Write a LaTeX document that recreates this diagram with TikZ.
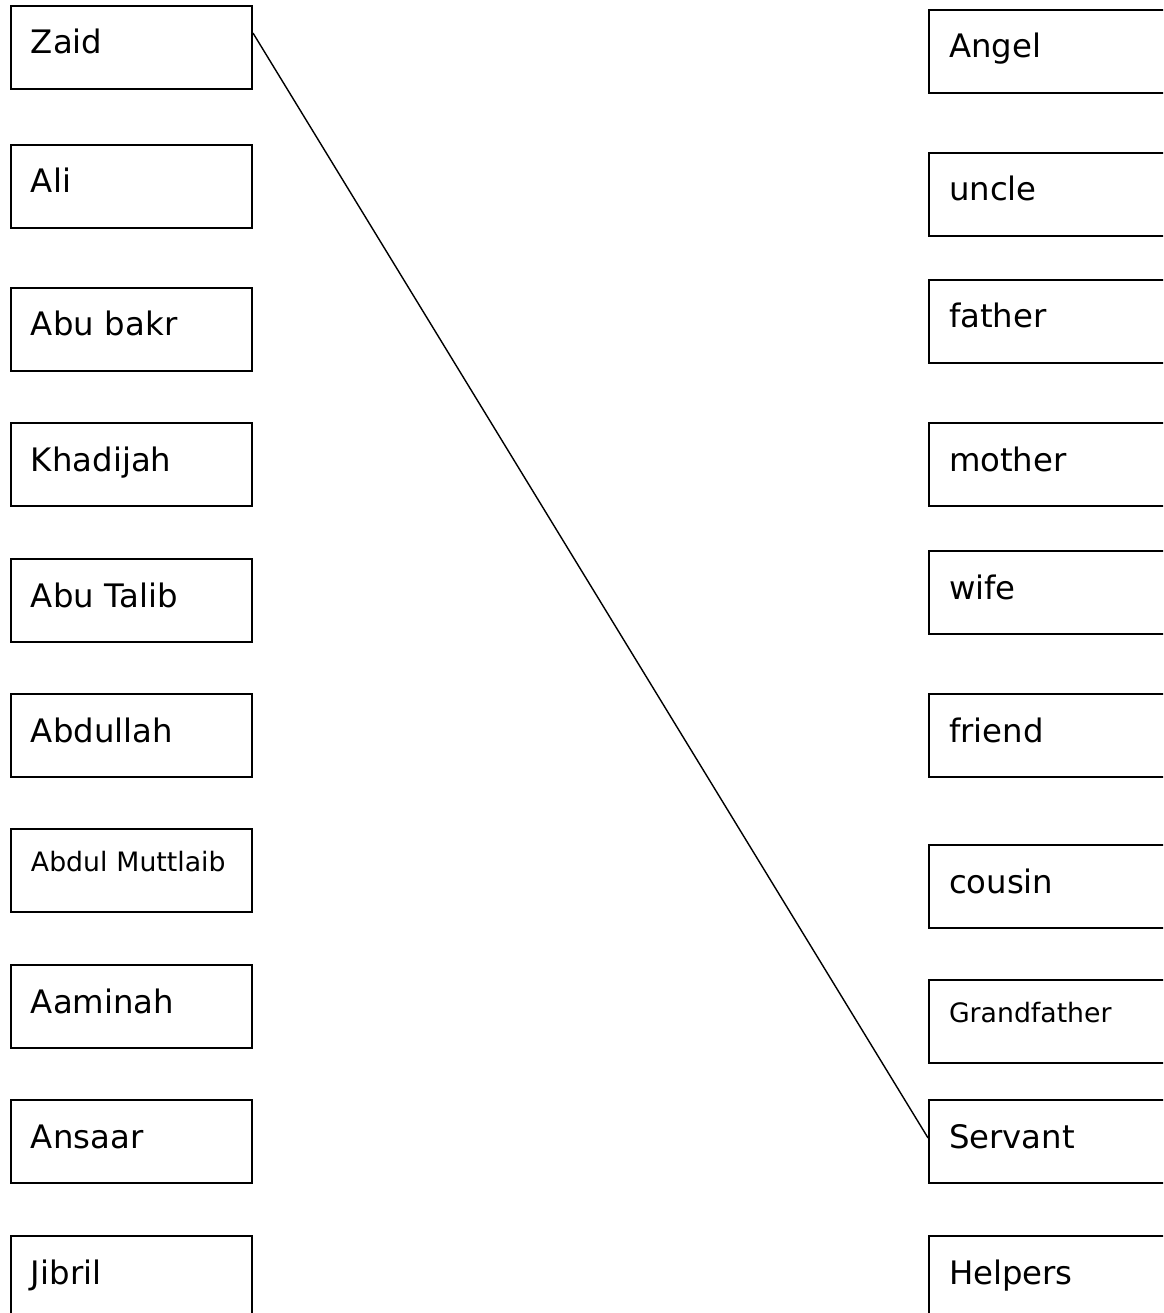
\documentclass[tikz,border=0pt]{standalone}
\usepackage{fontspec}
\setmainfont{DejaVu Sans}
\newcommand{\bignames}{\fontsize{23}{27}\selectfont}
\newcommand{\smallnames}{\fontsize{19}{23}\selectfont}
\tikzset{
	namebox/.style={draw, line width=1.4pt, rectangle, anchor=north west,
		inner xsep=0.5cm, inner ysep=0pt, text width=5.025cm, align=left,
		text height=1.2cm, text depth=0.875cm, font=\bignames},
	smallbox/.style={namebox, text height=1.05cm, text depth=1.025cm, font=\smallnames}
}
\begin{document}
\begin{tikzpicture}[x=0.025cm, y=-0.025cm]
		\useasboundingbox (0,0) rectangle (1163,1313);
		\clip (0,0) rectangle (1163,1313);
		% Namen (links)
		\node[namebox] (zaid) at (10,5) {Zaid};
		\node[namebox] (ali) at (10,144) {Ali};
		\node[namebox] (abubakr) at (10,287) {Abu bakr};
		\node[namebox] (khadijah) at (10,422) {Khadijah};
		\node[namebox] (abutalib) at (10,558) {Abu Talib};
		\node[namebox] (abdullah) at (10,693) {Abdullah};
		\node[smallbox] (muttlaib) at (10,828) {Abdul Muttlaib};
		\node[namebox] (aaminah) at (10,964) {Aaminah};
		\node[namebox] (ansaar) at (10,1099) {Ansaar};
		\node[namebox] (jibril) at (10,1235) {Jibril};
		% Beziehungen (rechts)
		\node[namebox] (angel) at (928,9) {Angel};
		\node[namebox] (uncle) at (928,152) {uncle};
		\node[namebox] (father) at (928,279) {father};
		\node[namebox] (mother) at (928,422) {mother};
		\node[namebox] (wife) at (928,550) {wife};
		\node[namebox] (friend) at (928,693) {friend};
		\node[namebox] (cousin) at (928,844) {cousin};
		\node[smallbox] (grandfather) at (928,979) {Grandfather};
		\node[namebox] (servant) at (928,1099) {Servant};
		\node[namebox] (helpers) at (928,1235) {Helpers};
		% Zuordnung
		\draw[line width=1pt] ([yshift=0.36cm]zaid.east) -- ([yshift=0.09cm]servant.west);
	\end{tikzpicture}
\end{document}
